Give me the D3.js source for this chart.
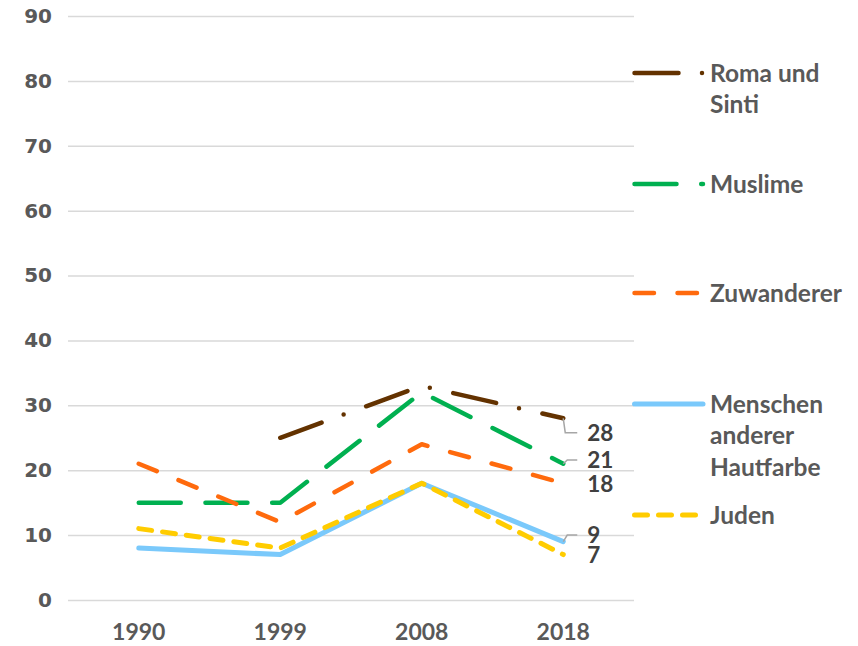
<!DOCTYPE html>
<html>
<head>
<meta charset="utf-8">
<script src="https://cdn.jsdelivr.net/npm/d3@7"></script>
<style>
  html, body { margin: 0; padding: 0; background: #fff; }
  svg { display: block; }
</style>
</head>
<body>
<svg id="chart" width="858" height="646"></svg>
<script>
// data
const years = ['1990', '1999', '2008', '2018'];
const romaUndSinti = [null, 25, 33, 28];
const muslime = [15, 15, 32, 21];
const zuwanderer = [21, 12, 24, 18];
const menschenAndererHautfarbe = [8, 7, 18, 9];
const juden = [11, 8, 18, 7];
const yTicks = [0, 10, 20, 30, 40, 50, 60, 70, 80, 90];

// series styling, legend order
const series = [
    { name: ['Roma und', 'Sinti'], values: romaUndSinti, color: '#633200', width: 4.5, dash: '44,23.5,0,24', legendY: 73, labelDy: 14.4 },
    { name: ['Muslime'], values: muslime, color: '#00b050', width: 4.5, dash: '42,24.7', legendY: 184, labelDy: -3.7 },
    { name: ['Zuwanderer'], values: zuwanderer, color: '#ff6a0d', width: 4.5, dash: '19.5,23.5', legendY: 293, labelDy: 1 },
    { name: ['Menschen', 'anderer', 'Hautfarbe'], values: menschenAndererHautfarbe, color: '#7ac9fb', width: 5, dash: null, legendY: 404, labelDy: -6.6 },
    { name: ['Juden'], values: juden, color: '#ffcc00', width: 5, dash: '13,11', legendY: 515, labelDy: 0.4 }
];
// which end labels get a leader line
const leaders = [true, true, false, true, false];
// drawing order (bottom first)
const drawOrder = [3, 4, 1, 2, 0];

const svg = d3.select('#chart');
svg.append('rect').attr('width', 858).attr('height', 646).attr('fill', '#fff');

const x = d3.scaleBand().domain(years).range([68, 634]);
const y = d3.scaleLinear().domain([0, 90]).range([600, 16]);
const cx = (d) => x(d) + x.bandwidth() / 2;

// y axis with gridlines
const yAxis = svg.append('g')
    .attr('transform', 'translate(68,0)')
    .call(d3.axisLeft(y).tickValues(yTicks).tickSize(-566).tickPadding(16));
yAxis.select('.domain').remove();
yAxis.selectAll('.tick line').attr('stroke', '#d9d9d9').attr('stroke-width', 1.5);
yAxis.selectAll('.tick text')
    .attr('fill', '#595959')
    .style('font-family', '"DejaVu Sans", sans-serif')
    .style('font-weight', 'bold')
    .style('font-size', '20px');

// x axis
const xAxis = svg.append('g')
    .attr('transform', 'translate(0,600)')
    .call(d3.axisBottom(x).tickSize(0).tickPadding(24));
xAxis.select('.domain').remove();
xAxis.selectAll('.tick text')
    .attr('fill', '#595959')
    .style('font-family', 'Lato, sans-serif')
    .style('font-weight', 'bold')
    .style('font-size', '23px');

const line = d3.line()
    .defined((d) => d.v !== null)
    .x((d) => cx(d.year))
    .y((d) => y(d.v));

const plot = svg.append('g');
drawOrder.forEach((i) => {
    const s = series[i];
    const pts = years.map((yr, k) => ({ year: yr, v: s.values[k] })).filter((d) => d.v !== null);
    plot.append('path')
        .datum(pts)
        .attr('d', line)
        .attr('fill', 'none')
        .attr('stroke', s.color)
        .attr('stroke-width', s.width)
        .attr('stroke-linecap', 'round')
        .attr('stroke-linejoin', 'round')
        .attr('stroke-dasharray', s.dash);
});

// end labels
const lastYear = years[years.length - 1];
const labels = svg.append('g');
series.forEach((s, i) => {
    const v = s.values[s.values.length - 1];
    const px = cx(lastYear);
    const py = y(v);
    const ly = py + s.labelDy;
    if (leaders[i]) {
        const knee = s.labelDy > 0 ? [px + 2, ly] : [px + 4, ly];
        labels.append('path')
            .attr('d', d3.line()([[px, py], knee, [px + 14, ly]]))
            .attr('fill', 'none')
            .attr('stroke', '#a6a6a6')
            .attr('stroke-width', 1.5);
    }
    labels.append('text')
        .attr('x', px + 24)
        .attr('y', ly)
        .attr('dy', '0.36em')
        .attr('fill', '#404040')
        .style('font-family', 'Lato, sans-serif')
        .style('font-weight', 'bold')
        .style('font-size', '22.5px')
        .text(v);
});

// legend
const legend = svg.append('g');
series.forEach((s) => {
    const g = legend.append('g').attr('transform', `translate(0,${s.legendY})`);
    g.append('path')
        .attr('d', d3.line()([[634.5, 0], [703, 0]]))
        .attr('stroke', s.color)
        .attr('stroke-width', s.width)
        .attr('stroke-linecap', 'round')
        .attr('stroke-dasharray', s.dash);
    const t = g.append('text')
        .attr('x', 710)
        .attr('fill', '#595959')
        .style('font-family', 'Lato, sans-serif')
        .style('font-weight', 'bold')
        .style('font-size', '24.5px');
    s.name.forEach((part, k) => {
        t.append('tspan')
            .attr('x', 710)
            .attr('y', k * 31.5)
            .attr('dy', '0.36em')
            .text(part);
    });
});
</script>
</body>
</html>
